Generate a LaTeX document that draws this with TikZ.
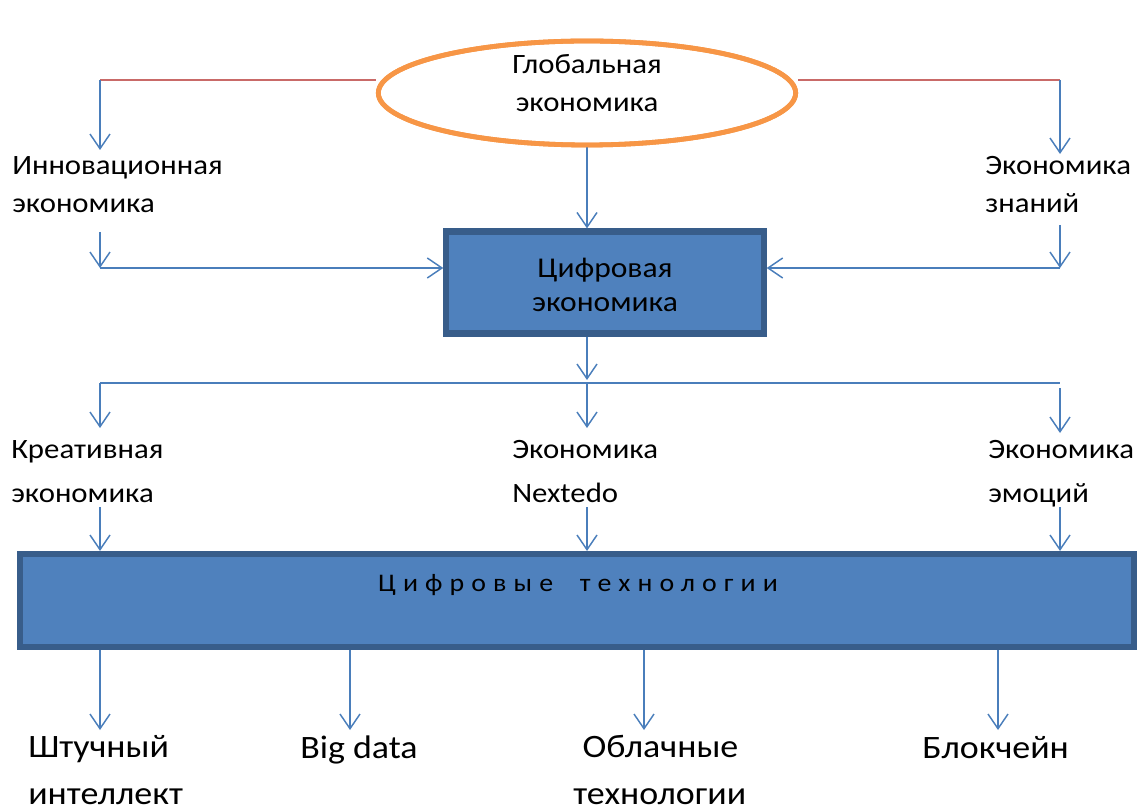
\documentclass[tikz,border=0pt]{standalone}
\usepackage{fontspec}
\setmainfont[FakeStretch=1.1]{Carlito}
\usetikzlibrary{arrows.meta,shapes.geometric}
\definecolor{boxfill}{HTML}{4F81BD}
\definecolor{boxline}{HTML}{385D8A}
\definecolor{arrowblue}{HTML}{4A7EBB}
\definecolor{redline}{HTML}{C0504D}
\definecolor{orangeline}{HTML}{F79646}
\begin{document}
\begin{tikzpicture}[x=0.75pt,y=-0.75pt,
  arr/.style={draw=arrowblue, line width=1.1pt, -{Straight Barb[length=11pt,width=15pt,line width=1.1pt]}},
  conn/.style={draw=arrowblue, line width=1.1pt},
  redconn/.style={draw=redline!85, line width=1.1pt},
  lbl/.style={inner sep=0pt, align=left, font=\fontsize{21}{28.5}\selectfont},
  lbltwo/.style={inner sep=0pt, align=left, font=\fontsize{21}{32.5}\selectfont},
  big/.style={inner sep=0pt, align=left, font=\fontsize{24.5}{35}\selectfont},
  bluebox/.style={draw=boxline, fill=boxfill, line width=4.6pt, inner sep=0pt}
]
\useasboundingbox (0,0) rectangle (1137,812);

% Global economy ellipse
\node[ellipse, draw=orangeline, line width=3.6pt, fill=white,
      minimum width=313pt, minimum height=78pt, inner sep=0pt] (glob) at (587,93) {};
\node[inner sep=0pt, align=center, font=\fontsize{21}{29}\selectfont, anchor=base] (globt) at (587,112) {Глобальная\\экономика};

% Digital economy box
\node[bluebox, minimum width=238pt, minimum height=76.5pt] (dig) at (605,282.5) {};
\node[inner sep=0pt, align=center, font=\fontsize{21.5}{26}\selectfont, anchor=base] (digt) at (605,312) {Цифровая\\экономика};

% Digital technologies box
\node[bluebox, minimum width=835.5pt, minimum height=70pt, line width=4.3pt] (tech) at (577,600.5) {};
\node[inner sep=0pt, anchor=base, font=\fontsize{19}{22}\selectfont\addfontfeature{LetterSpace=28}] (techt) at (578,591) {Цифровые\hspace{10pt} технологии};

% Side labels (row 1)
\node[lbl, anchor=base west] (innov) at (12,213) {Инновационная\\экономика};
\node[lbl, anchor=base west] (know) at (985,213) {Экономика\\знаний};

% Row 2 labels
\node[lbltwo, anchor=base west] (creat) at (11,502) {Креативная\\экономика};
\node[lbltwo, anchor=base west] (next) at (512,502) {Экономика\\Nextedo};
\node[lbltwo, anchor=base west] (emo) at (988,502) {Экономика\\эмоций};

% Bottom labels
\node[big, anchor=base west] (ai) at (28,804) {Штучный\\интеллект};
\node[big, anchor=base west] (bd) at (300,758) {Big data};
\node[big, anchor=base west] (cloud) at (573,804) {\hspace{7pt}Облачные\\технологии};
\node[big, anchor=base west] (block) at (922,758) {Блокчейн};

% Coordinates
\coordinate (tl) at (100,80);
\coordinate (tr) at (1060,80);
\coordinate (innovtip) at (100,150);
\coordinate (knowtip) at (1060,154);
\coordinate (innovlow) at (100,232);
\coordinate (knowlow) at (1060,225);
\coordinate (lcorner) at (100,268);
\coordinate (rcorner) at (1060,268);
\coordinate (bl) at (100,383);
\coordinate (bm) at (587,383);
\coordinate (br) at (1060,383);
\coordinate (c1) at (100,507);
\coordinate (c2) at (587,507);
\coordinate (c3) at (1060,507);
\coordinate (d1) at (100,730);
\coordinate (d2) at (350,730);
\coordinate (d3) at (644,730);
\coordinate (d4) at (998,730);

% Top connections
\draw[redconn] (tl) -- (tl -| glob.west);
\draw[redconn] (tr) -- (tr -| glob.east);
\draw[arr] (tl) -- (innovtip);
\draw[arr] (tr) -- (knowtip);
\draw[arr] (innovlow) -- (lcorner);
\draw[arr] (knowlow) -- (rcorner);
\draw[arr] (lcorner) -- (dig.west |- lcorner);
\draw[arr] (rcorner) -- (dig.east |- rcorner);
\draw[arr] (glob.south) -- (glob.south |- dig.north);

% Down from digital economy
\draw[arr] (bm |- dig.south) -- ([yshift=2.25pt]bm);
\draw[conn] (bl) -- (br);
\draw[arr] (bl) -- (100,428);
\draw[arr] (bm) -- (587,428);
\draw[arr] (1060,388) -- (1060,433);

% Row 2 to tech box
\draw[arr] (c1) -- (c1 |- tech.north);
\draw[arr] (c2) -- (c2 |- tech.north);
\draw[arr] (c3) -- (c3 |- tech.north);

% Tech box to bottom labels
\draw[arr] (d1 |- tech.south) -- (d1);
\draw[arr] (d2 |- tech.south) -- (d2);
\draw[arr] (d3 |- tech.south) -- (d3);
\draw[arr] (d4 |- tech.south) -- (d4);

% redraw ellipse outline on top so the red lines meet it
\node[ellipse, draw=orangeline, line width=3.6pt,
      minimum width=313pt, minimum height=78pt, inner sep=0pt] at (glob) {};
\end{tikzpicture}
\end{document}
